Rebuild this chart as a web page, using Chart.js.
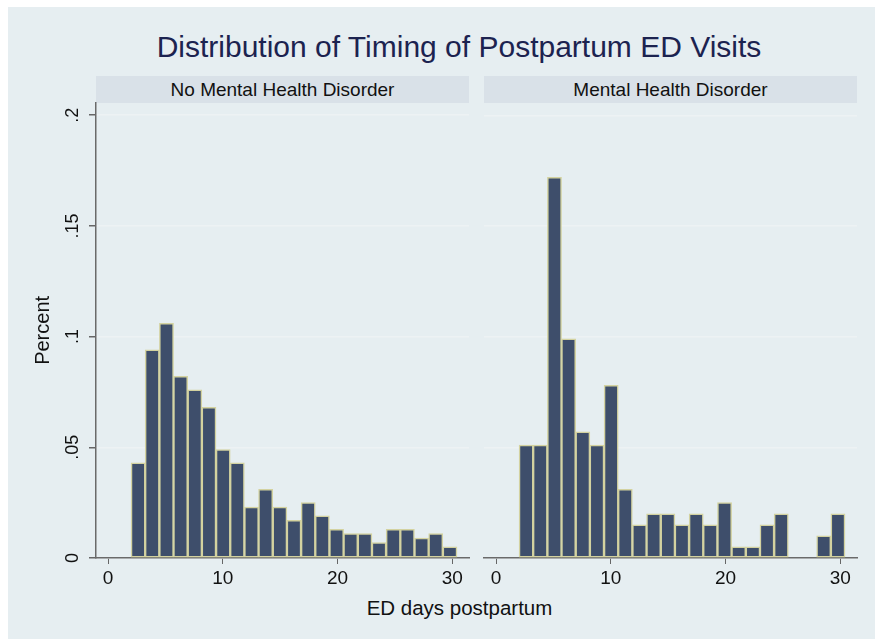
<!DOCTYPE html>
<html>
<head>
<meta charset="utf-8">
<script src="https://cdn.jsdelivr.net/npm/chart.js@4.4.1/dist/chart.umd.min.js"></script>
<style>
  body { margin: 0; background: #fff; width: 875px; height: 639px; overflow: hidden; font-family: "Liberation Sans", Arial, sans-serif; }
  #bg { position: absolute; left: 8px; top: 7px; width: 867px; height: 632px; background: #e6eef1; }
  #title { position: absolute; left: 0; top: 30px; width: 918px; text-align: center; font-size: 30px; color: #1c2350; }
  .head { position: absolute; top: 76px; width: 373px; height: 27px; line-height: 27px; background: #d9e1e8; text-align: center; font-size: 19px; color: #111; }
  canvas { position: absolute; }
  #xtitle { position: absolute; left: 0; top: 596px; width: 919px; text-align: center; font-size: 20.5px; color: #111; }
</style>
</head>
<body>
<div id="bg"></div>
<div id="title">Distribution of Timing of Postpartum ED Visits</div>
<div class="head" style="left:96px">No Mental Health Disorder</div>
<div class="head" style="left:484px">Mental Health Disorder</div>
<!-- left chart reserves ~14px on top for the rotated tick labels, so start it higher -->
<canvas id="left" width="470" height="504" style="left:8px; top:89px"></canvas>
<canvas id="right" width="397" height="490" style="left:478px; top:103px"></canvas>
<div id="xtitle">ED days postpartum</div>
<script>
// bin midpoints (ED days postpartum)
var binCenters = [2.62, 3.85, 5.09, 6.32, 7.56, 8.79, 10.03, 11.26, 12.50, 13.73, 14.97, 16.20,
  17.44, 18.67, 19.91, 21.14, 22.38, 23.61, 24.85, 26.08, 27.32, 28.55, 29.79];

var noMhd = [0.043, 0.094, 0.106, 0.082, 0.076, 0.068, 0.049, 0.043, 0.023, 0.031, 0.023, 0.017,
  0.025, 0.019, 0.013, 0.011, 0.011, 0.007, 0.013, 0.013, 0.009, 0.011, 0.005];

var mhd = [0.051, 0.051, 0.172, 0.099, 0.057, 0.051, 0.078, 0.031, 0.015, 0.020, 0.020, 0.015,
  0.020, 0.015, 0.025, 0.005, 0.005, 0.015, 0.020, 0, 0, 0.010, 0.020];

var xTicks = [0, 10, 20, 30];
var yTicks = [0, 0.05, 0.1, 0.15, 0.2];
var yTickLabels = ['0', '.05', '.1', '.15', '.2'];

function points(vals) {
  return binCenters.map(function (x, i) { return { x: x, y: vals[i] }; });
}

function makeChart(id, vals, showY) {
  var yScale;
  if (showY) {
    yScale = {
      min: 0, max: 0.2056,
      afterBuildTicks: function (s) { s.ticks = yTicks.map(function (v) { return { value: v }; }); },
      ticks: {
        minRotation: 90, maxRotation: 90, crossAlign: 'center', padding: 3,
        color: '#111', font: { size: 18, family: 'Liberation Sans' },
        callback: function (v, i) { return yTickLabels[i]; }
      },
      grid: { color: '#edf2f4', lineWidth: 1.5, tickColor: '#666', tickLength: 7 },
      border: { color: '#6a6a6a', width: 1.5 },
      title: { display: true, text: 'Percent', color: '#111', font: { size: 20, family: 'Liberation Sans' }, padding: { top: 23, bottom: 0 } },
      afterFit: function (s) { s.width = 88; }
    };
  } else {
    yScale = {
      min: 0, max: 0.2056,
      afterBuildTicks: function (s) { s.ticks = yTicks.map(function (v) { return { value: v }; }); },
      ticks: { display: false },
      grid: { color: '#edf2f4', lineWidth: 1.5, drawTicks: false },
      border: { display: false },
      afterFit: function (s) { s.width = 0; }
    };
  }
  return new Chart(document.getElementById(id), {
    type: 'bar',
    data: {
      datasets: [{
        data: points(vals),
        backgroundColor: '#3e4e6b',
        borderColor: '#d3d2a0',
        borderWidth: 1.5,
        borderSkipped: false,
        barPercentage: 1,
        categoryPercentage: 1
      }]
    },
    options: {
      responsive: false,
      animation: false,
      devicePixelRatio: 1,
      layout: {
        autoPadding: false,
        padding: showY ? { left: 0, right: 9, top: 0, bottom: 0 } : { left: 6, right: 18, top: 0, bottom: 0 }
      },
      plugins: { legend: { display: false }, tooltip: { enabled: false } },
      scales: {
        x: {
          type: 'linear', min: -1.05, max: 31.45, offset: false,
          afterBuildTicks: function (s) { s.ticks = xTicks.map(function (v) { return { value: v }; }); },
          ticks: { color: '#111', font: { size: 19, family: 'Liberation Sans' }, padding: 3, maxRotation: 0 },
          grid: { drawOnChartArea: false, offset: false, color: '#666', tickLength: 6 },
          border: { color: '#6a6a6a', width: 1.5 },
          afterFit: function (s) { s.height = 35; }
        },
        y: yScale
      }
    }
  });
}

makeChart('left', noMhd, true);
makeChart('right', mhd, false);
</script>
</body>
</html>
